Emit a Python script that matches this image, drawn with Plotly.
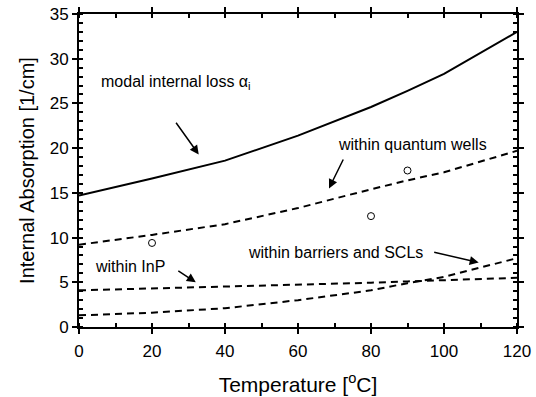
import plotly.graph_objects as go

temps = [0, 20, 40, 60, 80, 90, 100, 120]
modal_loss = [14.7, 16.6, 18.6, 21.4, 24.6, 26.4, 28.3, 33.0]
quantum_wells = [9.2, 10.3, 11.5, 13.3, 15.4, 16.4, 17.3, 19.7]
within_inp = [4.1, 4.3, 4.5, 4.7, 4.95, 5.1, 5.25, 5.5]
barriers_scls = [1.3, 1.6, 2.1, 3.0, 4.1, 4.9, 5.6, 7.7]
meas_t = [20, 80, 90]
meas_v = [9.4, 12.4, 17.5]

x_ticks = [0, 20, 40, 60, 80, 100, 120]
y_ticks = [0, 5, 10, 15, 20, 25, 30, 35]

FONT = "Liberation Sans, Arial, sans-serif"

fig = go.Figure()
fig.add_trace(go.Scatter(x=temps, y=modal_loss, mode="lines",
                         line=dict(color="black", width=2)))
for ys in (quantum_wells, within_inp, barriers_scls):
    fig.add_trace(go.Scatter(x=temps, y=ys, mode="lines",
                             line=dict(color="black", width=2, dash="7px,5px")))
fig.add_trace(go.Scatter(x=meas_t, y=meas_v, mode="markers",
                         marker=dict(symbol="circle-open", size=7, color="black",
                                     line=dict(width=1, color="black"))))

# text labels with arrows: (text, text x, text y, arrow tail x, y, arrow head x, y)
labels = [
    ("modal internal loss α<sub>i</sub>", 26.5, 27.3, 26.3, 23.0, 32.8, 19.3),
    ("within quantum wells", 91.5, 20.4, 72.6, 18.9, 68.5, 15.5),
    ("within barriers and SCLs", 70.3, 8.3, 96.9, 8.4, 109.5, 7.2),
    ("within InP", 14.1, 6.8, 26.8, 6.4, 32.0, 5.0),
]
for txt, tx, ty, ax, ay, hx, hy in labels:
    fig.add_annotation(x=tx, y=ty, text=txt, showarrow=False,
                       font=dict(family=FONT, size=16, color="black"))
    fig.add_annotation(x=hx, y=hy, ax=ax, ay=ay, xref="x", yref="y",
                       axref="x", ayref="y", text="", showarrow=True,
                       arrowhead=2, arrowsize=1.2, arrowwidth=1.5,
                       arrowcolor="black")

axis_common = dict(showline=True, linecolor="black", linewidth=2, mirror="allticks",
                   ticks="outside", ticklen=5, tickwidth=2, tickcolor="black",
                   showgrid=False, zeroline=False, automargin=False,
                   tickfont=dict(family=FONT, size=17, color="black"))

fig.update_xaxes(range=[0, 120], tickvals=x_ticks, ticktext=[str(v) for v in x_ticks],
                 minor=dict(dtick=10, ticks="inside", ticklen=4, tickwidth=1.5,
                            tickcolor="black"),
                 ticklabelstandoff=3,
                 title=dict(text="Temperature [<sup>o</sup>C]",
                            font=dict(family=FONT, size=21, color="black"), standoff=17),
                 **axis_common)
fig.update_yaxes(range=[0, 35], tickvals=y_ticks, ticktext=[str(v) for v in y_ticks],
                 minor=dict(dtick=1, ticks="inside", ticklen=4, tickwidth=1.5,
                            tickcolor="black"),
                 title=dict(text="Internal Absorption [1/cm]",
                            font=dict(family=FONT, size=20, color="black"), standoff=10),
                 **axis_common)

fig.update_layout(width=536, height=397, showlegend=False,
                  plot_bgcolor="white", paper_bgcolor="white",
                  margin=dict(l=79, r=19, t=14, b=70))

fig.write_html("out.html")
